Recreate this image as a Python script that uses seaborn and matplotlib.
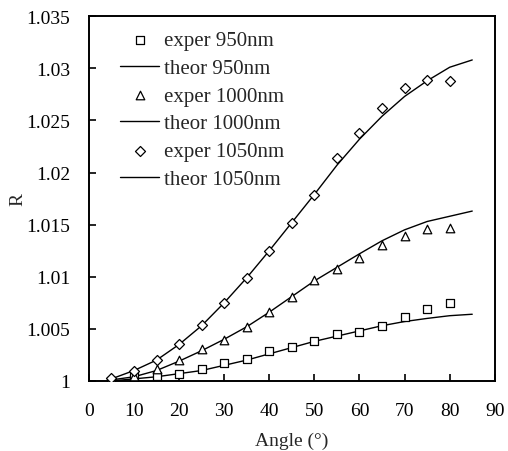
import matplotlib
matplotlib.use("Agg")
import matplotlib.pyplot as plt
import seaborn as sns
import pandas as pd
from matplotlib.ticker import FuncFormatter, MultipleLocator

angles_exp = [5, 10, 15, 20, 25, 30, 35, 40, 45, 50, 55, 60, 65, 70, 75, 80]
exper_950 = [1.0000, 1.0004, 1.0005, 1.0007, 1.0011, 1.0017, 1.0021, 1.0029,
             1.0033, 1.0038, 1.0045, 1.0047, 1.0053, 1.0061, 1.0069, 1.0075]
exper_1000 = [1.0001, 1.0005, 1.0011, 1.0020, 1.0031, 1.0039, 1.0052, 1.0066,
              1.0081, 1.0097, 1.0107, 1.0118, 1.0130, 1.0139, 1.0146, 1.0147]
exper_1050 = [1.0003, 1.0010, 1.0020, 1.0035, 1.0054, 1.0075, 1.0099, 1.0125,
              1.0152, 1.0178, 1.0214, 1.0238, 1.0262, 1.0281, 1.0289, 1.0288]

angles_th = [5, 10, 15, 20, 25, 30, 35, 40, 45, 50, 55, 60, 65, 70, 75, 80, 85]
theor_950 = [1.0000, 1.0002, 1.0004, 1.0007, 1.0010, 1.0015, 1.0020, 1.0026,
             1.0032, 1.0038, 1.0043, 1.0048, 1.0053, 1.0057, 1.0060, 1.00626, 1.0064]
theor_1000 = [1.0001, 1.0004, 1.0010, 1.0019, 1.0029, 1.0040, 1.0052, 1.0066,
              1.0081, 1.0096, 1.0109, 1.0122, 1.01345, 1.0145, 1.0153, 1.0158, 1.0163]
theor_1050 = [1.0002, 1.0010, 1.0020, 1.0035, 1.0053, 1.0075, 1.0099, 1.0125,
              1.0152, 1.0179, 1.0207, 1.0232, 1.0254, 1.0273, 1.0288, 1.0301, 1.0308]

labels_wl = ["950nm", "1000nm", "1050nm"]
markers = ["s", "^", "D"]

sns.set_style("ticks")
plt.rcParams["font.family"] = ["Liberation Serif", "DejaVu Serif"]

fig = plt.figure(figsize=(5.08, 4.52), dpi=100)
ax = fig.add_axes([0.175, 0.155, 0.799, 0.807])

for wl, ex, th, mk in zip(labels_wl, [exper_950, exper_1000, exper_1050],
                          [theor_950, theor_1000, theor_1050], markers):
    dfe = pd.DataFrame({"Angle": angles_exp, "R": ex})
    dft = pd.DataFrame({"Angle": angles_th, "R": th})
    msize = {"s": 28, "^": 38, "D": 26}[mk]
    sns.scatterplot(data=dfe, x="Angle", y="R", ax=ax, marker=mk, s=msize,
                    facecolor="white", edgecolor="black", linewidth=0.9,
                    zorder=3, label=f"exper {wl}")
    sns.lineplot(data=dft, x="Angle", y="R", ax=ax, color="black",
                 linewidth=1.0, zorder=2, label=f"theor {wl}")

ax.set_xlim(0, 90)
ax.set_ylim(1.0, 1.035)
ax.xaxis.set_major_locator(MultipleLocator(10))
ax.yaxis.set_major_locator(MultipleLocator(0.005))
ax.yaxis.set_major_formatter(FuncFormatter(lambda v, p: f"{v:.3f}".rstrip("0").rstrip(".")))
ax.tick_params(axis="both", direction="in", length=5, width=1.2, labelsize=14,
               colors="black")
ax.tick_params(axis="x", pad=15)
ax.tick_params(axis="y", pad=13.5)
for s in ax.spines.values():
    s.set_linewidth(1.4)
    s.set_color("black")
ax.set_xlabel("Angle (°)", fontsize=14, labelpad=9)
ax.set_ylabel("R", fontsize=14, labelpad=0)

h, l = ax.get_legend_handles_labels()
leg = ax.legend(h, l, loc="upper left", frameon=False, fontsize=15,
                handlelength=1.9, handletextpad=0.22, labelspacing=0.39,
                borderaxespad=0.3, bbox_to_anchor=(0.04, 1.0))

fig.savefig("out.png", dpi=100)
